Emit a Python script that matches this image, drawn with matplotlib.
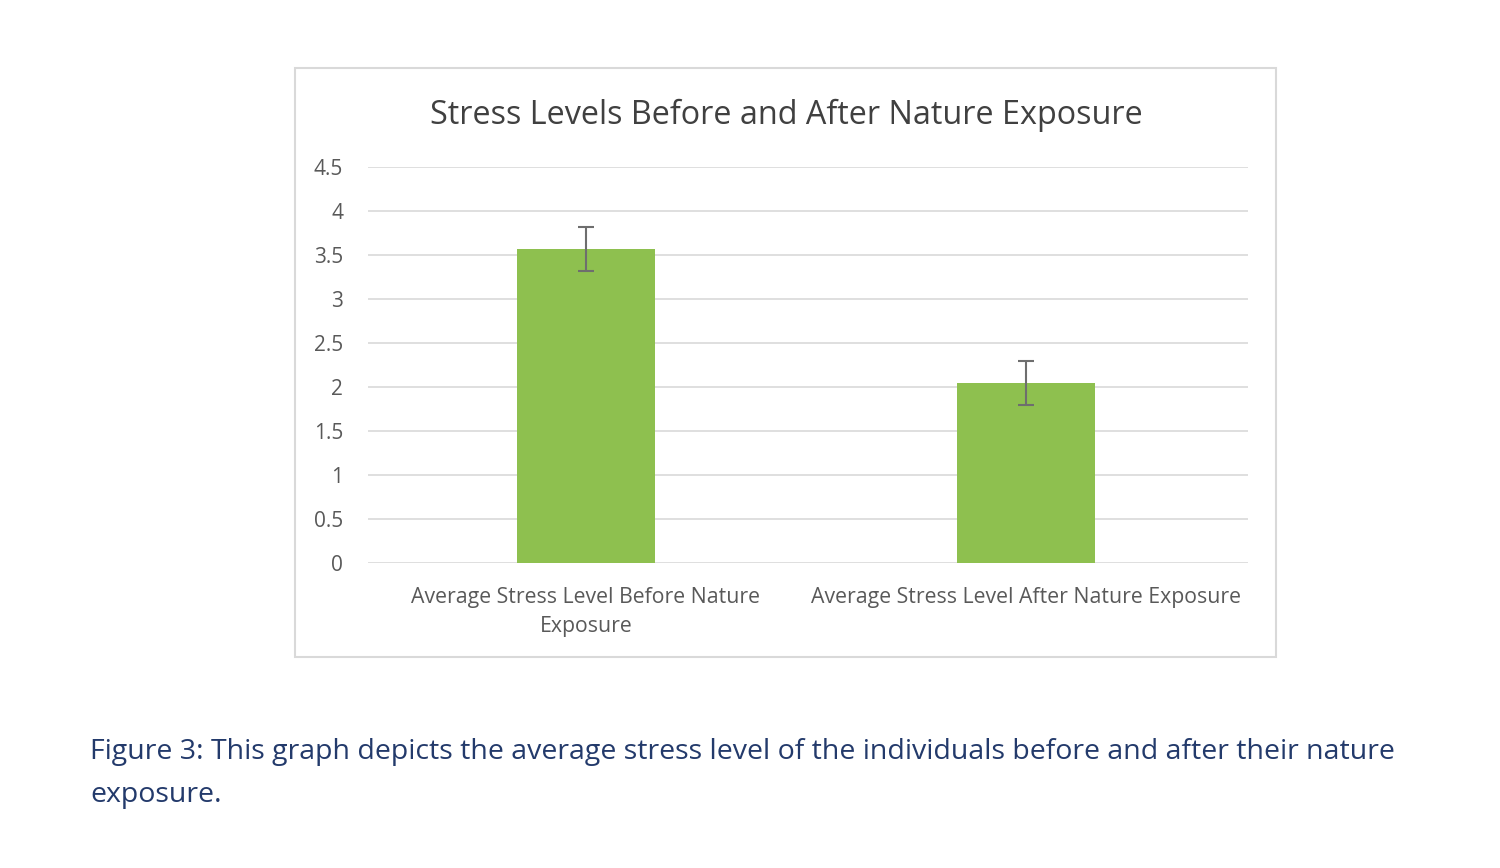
import matplotlib
matplotlib.use("Agg")
import matplotlib.pyplot as plt
from matplotlib.patches import Rectangle

categories = ["Average Stress Level Before Nature\nExposure",
              "Average Stress Level After Nature Exposure"]
values = [3.57, 2.05]
errors = [0.25, 0.25]
yticks = [0, 0.5, 1, 1.5, 2, 2.5, 3, 3.5, 4, 4.5]
ytick_labels = ["0", "0.5", "1", "1.5", "2", "2.5", "3", "3.5", "4", "4.5"]

plt.rcParams['font.family'] = ['Open Sans', 'DejaVu Sans']

fig = plt.figure(figsize=(15, 8.68), dpi=100)
fig.patch.set_facecolor('white')

# chart border
fig.add_artist(Rectangle((295/1500, 1-657/868), 981/1500, 589/868,
                         transform=fig.transFigure, fill=False,
                         edgecolor='#D9D9D9', linewidth=1.5))

ax = fig.add_axes([368/1500, 1-563/868, 880/1500, 396/868])
x = list(range(len(categories)))
ax.bar(x, values, width=0.315, color='#8EC04F', zorder=3)
ax.errorbar(x, values, yerr=errors, fmt='none', ecolor='#6E6E6E',
            elinewidth=1.5, capsize=6, capthick=1.5, zorder=4)

ax.set_xlim(-0.495, 1.505)
ax.set_ylim(0, 4.5)
ax.set_yticks(yticks)
ax.set_yticklabels(ytick_labels)
ax.set_xticks(x)
ax.set_xticklabels(categories, linespacing=1.5)
ax.tick_params(axis='y', length=0, pad=18, labelsize=15, labelcolor='#595959')
ax.tick_params(axis='x', length=0, pad=17, labelsize=15.3, labelcolor='#595959')
ax.grid(axis='y', color='#D9D9D9', linewidth=1.2, zorder=0)
for s in ax.spines.values():
    s.set_visible(False)

fig.text(786/1500, 1-115/868, "Stress Levels Before and After Nature Exposure",
         ha='center', va='center', fontsize=23.3, color='#404040')

fig.text(90/1500, 1-752/868,
         "Figure 3: This graph depicts the average stress level of the individuals before and after their nature",
         ha='left', va='center', fontsize=20.5, color='#233A6B')
fig.text(90/1500, 1-795/868, "exposure.",
         ha='left', va='center', fontsize=20.5, color='#233A6B')

fig.savefig("out.png", dpi=100, facecolor='white')
